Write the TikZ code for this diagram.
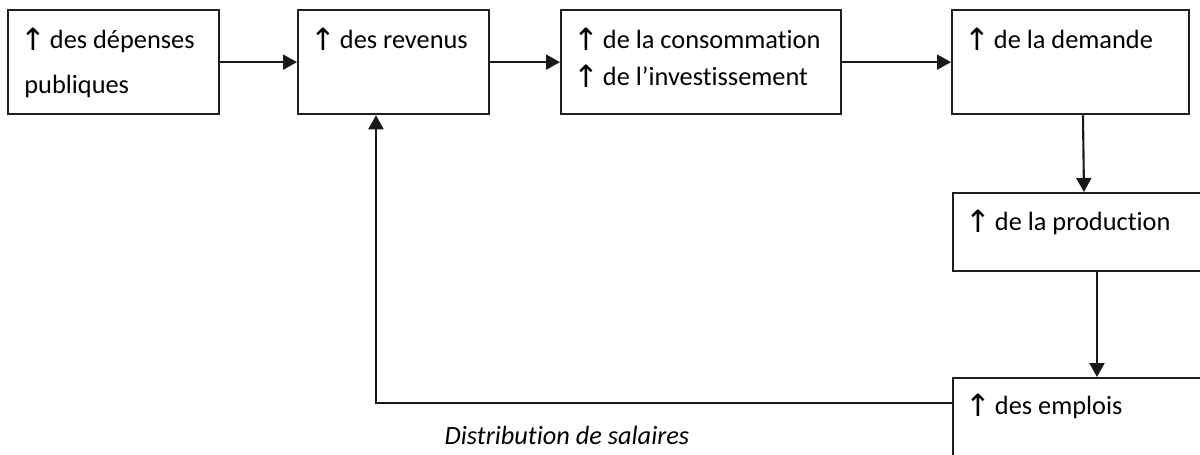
\documentclass[tikz,border=0pt]{standalone}
\usepackage{fontspec}
\setmainfont[Ligatures=NoCommon]{Carlito}
\newfontfamily\symfont{DejaVu Sans}
\usetikzlibrary{arrows.meta}
\newcommand{\up}{\hspace{-2pt}{\symfont\fontsize{17.5}{22}\selectfont\raisebox{-1pt}{↑}}\hspace{-1.5pt}}
\begin{document}
\begin{tikzpicture}[x=0.02cm,y=-0.02cm,
  box/.style={draw=black!88,line width=1.3pt,inner sep=0pt,anchor=north west},
  txt/.style={anchor=base west,inner sep=0pt,font=\fontsize{15}{21}\selectfont},
  arr/.style={draw=black!90,line width=1.2pt,-{Triangle[length=0.28cm,width=0.30cm]}}]
\useasboundingbox (0,0) rectangle (1200,455);
\node[box,minimum width=4.22cm,minimum height=2.08cm] (b1) at (7,9) {};
\node[box,minimum width=3.82cm,minimum height=2.08cm] (b2) at (297,9) {};
\node[box,minimum width=5.60cm,minimum height=2.08cm] (b3) at (560,9) {};
\node[box,minimum width=4.74cm,minimum height=2.08cm] (b4) at (951,9) {};
\node[box,minimum width=4.96cm,minimum height=1.56cm] (b5) at (952,192) {};
\node[box,minimum width=4.96cm,minimum height=1.56cm] (b6) at (952,377) {};
\node[txt] (t1) at ([xshift=0.34cm,yshift=-0.80cm]b1.north west) {\parbox[t]{4cm}{\raggedright\fontsize{15}{25.5}\selectfont\up{} des dépenses\\publiques}};
\node[txt] (t2) at ([xshift=0.34cm,yshift=-0.80cm]b2.north west) {\up{} des revenus};
\node[txt] (t3) at ([xshift=0.34cm,yshift=-0.80cm]b3.north west) {\parbox[t]{5.2cm}{\raggedright\fontsize{15}{21}\selectfont\up{} de la consommation\\\up{} de l’investissement}};
\node[txt] (t4) at ([xshift=0.34cm,yshift=-0.80cm]b4.north west) {\up{} de la demande};
\node[txt] (t5) at ([xshift=0.34cm,yshift=-0.78cm]b5.north west) {\up{} de la production};
\node[txt] (t6) at ([xshift=0.34cm,yshift=-0.76cm]b6.north west) {\up{} des emplois};
\draw[arr] (b1.east) -- (b2.west);
\draw[arr] (b2.east) -- (b3.west);
\draw[arr] (b3.east) -- (b4.west);
\draw[arr] ([xshift=2.64cm]b4.south west) -- ([xshift=2.64cm]b5.north west);
\draw[arr] ([xshift=2.90cm]b5.south west) -- ([xshift=2.90cm]b6.north west);
\draw[arr] ([yshift=-0.52cm]b6.north west) -| ([xshift=1.58cm]b2.south west);
\node[font=\fontsize{15}{20}\selectfont\itshape,inner sep=0pt] (lab) at (567,435) {Distribution de salaires};
\end{tikzpicture}
\end{document}
